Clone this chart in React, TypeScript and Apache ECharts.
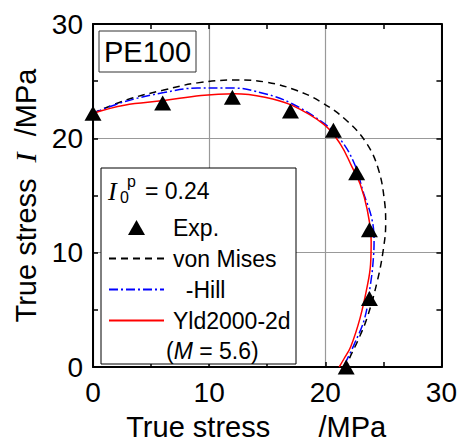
import React, { useEffect, useRef } from "react";
import * as echarts from "echarts";

// Experimental points
const expX = [0, 6, 12, 17, 20.7, 22.7, 23.8, 23.8, 21.8];
const expY = [22.2, 23.1, 23.6, 22.4, 20.7, 17.0, 12.0, 6.0, 0];

// von Mises (dashed black)
const vmX = [0, 3, 6, 9, 12.3, 15, 17.5, 19.6, 21.9, 23.6, 24.6, 25.1, 25.2, 25.0, 24.5, 23.6, 22.8, 22.1, 21.8];
const vmY = [22.2, 23.4, 24.2, 24.85, 25.1, 24.9, 24.2, 23.2, 21.5, 19.5, 17.2, 14.5, 12.5, 10.3, 7.6, 4.3, 2.3, 0.8, 0];

// Hill (blue dash-dot)
const hillX = [0, 2.7, 6.1, 9.0, 12.0, 14.8, 17.1, 19.9, 21.3, 22.5, 23.3, 24.0, 24.2, 24.1, 23.9, 23.4, 22.5, 21.8, 21.6];
const hillY = [22.2, 23.2, 24.0, 24.4, 24.4, 23.9, 23.05, 21.3, 19.9, 17.8, 15.2, 13.0, 11.0, 9.0, 7.3, 4.3, 2.0, 0.5, 0];

// Yld2000-2d (red solid)
const yldX = [0, 2.7, 6.1, 9.3, 12.2, 14.8, 17.1, 19.9, 21.3, 22.3, 23.0, 23.6, 23.95, 23.9, 23.6, 23.0, 22.2, 21.6, 21.2];
const yldY = [22.2, 22.9, 23.3, 23.75, 23.9, 23.6, 22.9, 21.2, 19.5, 17.5, 16.0, 13.8, 11.0, 9.0, 7.0, 4.3, 1.8, 0.7, 0];

const legendNames = ["Exp.", "von Mises", "\u00a0\u00a0-Hill", "Yld2000-2d"];

const toPairs = (xs: number[], ys: number[]) => xs.map((x, i) => [x, ys[i]]);

export default function App() {
  const ref = useRef<HTMLDivElement>(null);
  useEffect(() => {
    const chart = echarts.init(ref.current!, null, { renderer: "svg" });
    const sans = "'Liberation Sans', Arial, sans-serif";
    const serif = "'Liberation Serif', 'Times New Roman', serif";

    const axisBase = (extra: any) => ({
      type: "value",
      min: 0,
      max: 30,
      interval: 10,
      axisLine: { show: true, onZero: false, lineStyle: { color: "#000", width: 2 } },
      axisTick: { show: true, inside: true, length: 5, lineStyle: { color: "#000", width: 1.5 } },
      minorTick: { show: true, splitNumber: 2, length: 5, lineStyle: { color: "#000", width: 1.5 } },
      splitLine: { show: false },
      axisLabel: { show: false },
      ...extra,
    });

    // invisible symbol for line legend icons (line only)
    const noSymbol = { opacity: 0 };

    chart.setOption({
      animation: false,
      backgroundColor: "#fff",
      grid: { left: 93, right: 15, top: 24, bottom: 72, containLabel: false },
      xAxis: [
        axisBase({
          position: "bottom",
          splitLine: { show: true, lineStyle: { color: "#999", width: 1.2 } },
          axisLabel: { show: true, fontSize: 28, color: "#000", fontFamily: sans, margin: 11 },
          name: "True stress\u00a0\u00a0\u00a0\u00a0\u00a0\u00a0/MPa",
          nameLocation: "middle",
          nameGap: 45,
          nameTextStyle: { fontSize: 29, color: "#000", fontFamily: sans, padding: [0, 22, 0, 0] },
        }),
        axisBase({ position: "top" }),
      ],
      yAxis: [
        axisBase({
          position: "left",
          splitLine: { show: true, lineStyle: { color: "#999", width: 1.2 } },
          axisLabel: { show: true, fontSize: 28, color: "#000", fontFamily: sans, margin: 10 },
          name: "True stress\u00a0\u00a0{i|I}\u00a0\u00a0/MPa",
          nameLocation: "middle",
          nameGap: 52,
          nameRotate: 90,
          nameTextStyle: {
            fontSize: 29,
            color: "#000",
            fontFamily: sans,
            rich: {
              i: { fontSize: 30, fontFamily: serif, fontStyle: "italic", color: "#000" },
            },
          },
        }),
        axisBase({ position: "right" }),
      ],
      legend: {
        orient: "vertical",
        left: 103,
        top: 211,
        itemWidth: 55,
        itemHeight: 15,
        itemGap: 8,
        selectedMode: false,
        symbolKeepAspect: false,
        textStyle: { fontSize: 23, color: "#000", fontFamily: sans, padding: [0, 0, 0, 4] },
        data: [
          { name: legendNames[0], icon: "path://M0,0M55,15M19,15L27.5,0L36,15Z", itemStyle: { color: "#000", opacity: 1 } },
          { name: legendNames[1], itemStyle: noSymbol },
          { name: legendNames[2], itemStyle: noSymbol },
          { name: legendNames[3], itemStyle: noSymbol },
        ],
      },
      graphic: [
        {
          type: "rect",
          z: 1,
          shape: { x: 101, y: 168, width: 195, height: 196 },
          style: { fill: "#fff", stroke: "#000", lineWidth: 1 },
        },
        {
          type: "text",
          z: 6,
          x: 108,
          y: 191,
          style: { text: "I", fontSize: 26, fontFamily: serif, fontStyle: "italic", fill: "#000", verticalAlign: "middle" },
        },
        {
          type: "text",
          z: 6,
          x: 120,
          y: 197,
          style: { text: "0", fontSize: 16, fontFamily: sans, fill: "#000", verticalAlign: "middle" },
        },
        {
          type: "text",
          z: 6,
          x: 127,
          y: 181,
          style: { text: "p", fontSize: 16, fontFamily: sans, fill: "#000", verticalAlign: "middle" },
        },
        {
          type: "text",
          z: 6,
          x: 145,
          y: 191,
          style: { text: "= 0.24", fontSize: 23, fontFamily: sans, fill: "#000", verticalAlign: "middle" },
        },
        {
          type: "text",
          z: 6,
          x: 166,
          y: 351,
          style: {
            text: "{a|(}{m|M}{a| = 5.6)}",
            verticalAlign: "middle",
            rich: {
              a: { fontSize: 23, fontFamily: sans, fill: "#000" },
              m: { fontSize: 23, fontFamily: sans, fontStyle: "italic", fill: "#000" },
            },
          },
        },
        {
          type: "rect",
          z: 5,
          shape: { x: 99, y: 31, width: 97, height: 41 },
          style: { fill: "#fff", stroke: "#333", lineWidth: 1 },
        },
        {
          type: "text",
          z: 6,
          x: 147.5,
          y: 52,
          style: { text: "PE100", fontSize: 29, fontFamily: sans, fill: "#000", align: "center", verticalAlign: "middle" },
        },
      ],
      series: [
        {
          name: legendNames[1],
          type: "line",
          data: toPairs(vmX, vmY),
          smooth: 0.4,
          symbol: "none",
          showSymbol: false,
          itemStyle: { color: "#000" },
          lineStyle: { color: "#000", width: 1.5, type: [7, 5] },
          z: 2,
        },
        {
          name: legendNames[2],
          type: "line",
          data: toPairs(hillX, hillY),
          smooth: 0.4,
          symbol: "none",
          showSymbol: false,
          itemStyle: { color: "#0000ff" },
          lineStyle: { color: "#0000ff", width: 1.5, type: [9, 3, 2, 3] },
          z: 3,
        },
        {
          name: legendNames[3],
          type: "line",
          data: toPairs(yldX, yldY),
          smooth: 0.4,
          symbol: "none",
          showSymbol: false,
          itemStyle: { color: "#ff0000" },
          lineStyle: { color: "#ff0000", width: 1.5 },
          z: 4,
        },
        {
          name: legendNames[0],
          type: "scatter",
          data: toPairs(expX, expY),
          symbol: "triangle",
          symbolSize: [17, 15],
          itemStyle: { color: "#000", opacity: 1 },
          z: 5,
        },
      ],
    });
    return () => chart.dispose();
  }, []);
  return (
    <div
      ref={ref}
      style={{ position: "fixed", left: 0, top: 0, width: 460, height: 446 }}
    />
  );
}
